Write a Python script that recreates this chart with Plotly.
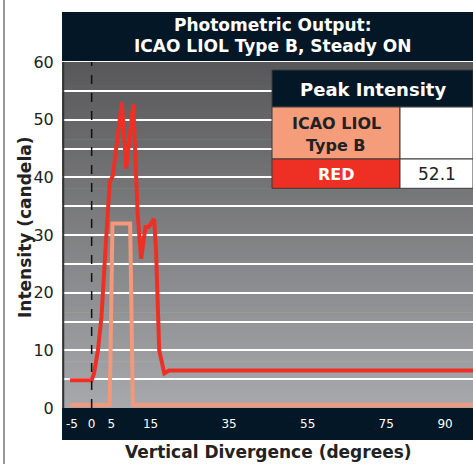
import plotly.graph_objects as go

# ---- data ----
red_x = [-5.5, 0, 0.6, 1.6, 2.5, 2.9, 3.5, 4.6, 5.4, 7.7, 8.8, 10.6, 11.7, 12.6, 13.7, 14.5, 15.9, 16.4, 17.2, 18.5, 19.7, 98]
red_y = [4.8, 4.8, 6, 10, 15.8, 21.6, 27.3, 39.2, 40.3, 53, 41.5, 52.7, 33.7, 25.9, 31.4, 31.4, 32.8, 27.3, 10, 6, 6.5, 6.5]
orange_x = [-5.5, 4.6, 5.3, 9.8, 10.5, 98]
orange_y = [0.5, 0.5, 32, 32, 0.5, 0.5]
x_ticks = [-5, 0, 5, 15, 35, 55, 75, 90]
x_tick_labels = ["-5", "0", "5", "15", "35", "55", "75", "90"]
y_ticks = [0, 10, 20, 30, 40, 50, 60]
peak_red = "52.1"

W, H = 473, 464
L, R, T, B = 62, 0, 62, 56
PW, PH = W - L - R, H - T - B

def px(xp):
    return (xp - L) / PW

def py(yp):
    return (H - B - yp) / PH

NAVY = "#041726"
SALMON = "#f59c7b"
RED = "#ee3024"
FONT = "DejaVu Sans"

fig = go.Figure()
fig.add_trace(go.Scatter(x=orange_x, y=orange_y, mode="lines",
                         line=dict(color="#f4977a", width=4), hoverinfo="skip"))
fig.add_trace(go.Scatter(x=red_x, y=red_y, mode="lines",
                         line=dict(color=RED, width=4), hoverinfo="skip"))

shapes = []
# title band and x-axis band (below, so tick labels stay visible)
shapes.append(dict(type="rect", xref="paper", yref="paper", x0=0, x1=1, y0=py(61), y1=py(12),
                   fillcolor=NAVY, line=dict(width=0), layer="below"))
shapes.append(dict(type="rect", xref="paper", yref="paper", x0=0, x1=1, y0=py(440), y1=py(H - B),
                   fillcolor=NAVY, line=dict(width=0), layer="below"))
# gradient background
n = 120
top = (88, 88, 90)
bot = (168, 169, 172)
for i in range(n):
    f = (i + 0.5) / n
    c = tuple(int(round(bot[k] + (top[k] - bot[k]) * f)) for k in range(3))
    shapes.append(dict(type="rect", xref="paper", yref="paper", x0=0, x1=1,
                       y0=i / n, y1=min((i + 1) / n + 0.002, 1), fillcolor="rgb(%d,%d,%d)" % c,
                       line=dict(width=0), layer="below"))
# dashed zero line
shapes.append(dict(type="line", xref="x", yref="paper", x0=0, x1=0, y0=0, y1=1,
                   line=dict(color="#111111", width=1.5, dash="dash")))
# left plot edge
shapes.append(dict(type="line", xref="paper", yref="paper", x0=0.003, x1=0.003, y0=0, y1=1,
                   line=dict(color="#333333", width=2)))
# page border at left
shapes.append(dict(type="line", xref="paper", yref="paper", x0=px(4), x1=px(4), y0=py(H), y1=py(0),
                   line=dict(color="#999999", width=2)))
# table
tx0, tx1, tx2 = px(272), px(400), 1.0
ty0, ty1, ty2, ty3 = py(70), py(107), py(159), py(188.3)
border = dict(color="#3a3a3a", width=1)
shapes += [
    dict(type="rect", xref="paper", yref="paper", x0=tx0, x1=tx2, y0=ty1, y1=ty0, fillcolor=NAVY, line=border),
    dict(type="rect", xref="paper", yref="paper", x0=tx0, x1=tx1, y0=ty2, y1=ty1, fillcolor=SALMON, line=border),
    dict(type="rect", xref="paper", yref="paper", x0=tx1, x1=tx2, y0=ty2, y1=ty1, fillcolor="white", line=border),
    dict(type="rect", xref="paper", yref="paper", x0=tx0, x1=tx1, y0=ty3, y1=ty2, fillcolor=RED, line=border),
    dict(type="rect", xref="paper", yref="paper", x0=tx1, x1=tx2, y0=ty3, y1=ty2, fillcolor="white", line=border),
]

ann = [
    dict(text="<b>Photometric Output:</b>", x=px(273), y=py(25), xref="paper", yref="paper",
         showarrow=False, font=dict(family=FONT, size=17, color="white"), xanchor="center", yanchor="middle"),
    dict(text="<b>ICAO LIOL Type B, Steady ON</b>", x=px(273), y=py(46), xref="paper", yref="paper",
         showarrow=False, font=dict(family=FONT, size=17, color="white"), xanchor="center", yanchor="middle"),
    dict(text="<b>Peak Intensity</b>", x=(tx0 + tx2) / 2, y=py(89), xref="paper", yref="paper",
         showarrow=False, font=dict(family=FONT, size=18, color="white"), xanchor="center", yanchor="middle"),
    dict(text="<b>ICAO LIOL</b>", x=(tx0 + tx1) / 2, y=py(123), xref="paper", yref="paper",
         showarrow=False, font=dict(family=FONT, size=16, color="#222222"), xanchor="center", yanchor="middle"),
    dict(text="<b>Type B</b>", x=(tx0 + tx1) / 2, y=py(145), xref="paper", yref="paper",
         showarrow=False, font=dict(family=FONT, size=16, color="#222222"), xanchor="center", yanchor="middle"),
    dict(text="<b>RED</b>", x=(tx0 + tx1) / 2, y=py(174), xref="paper", yref="paper",
         showarrow=False, font=dict(family=FONT, size=16, color="white"), xanchor="center", yanchor="middle"),
    dict(text=peak_red, x=(tx1 + tx2) / 2, y=py(174), xref="paper", yref="paper",
         showarrow=False, font=dict(family=FONT, size=17, color="#222222"), xanchor="center", yanchor="middle"),
    dict(text="<b>Vertical Divergence (degrees)</b>", x=px(268), y=py(452), xref="paper", yref="paper",
         showarrow=False, font=dict(family=FONT, size=17, color="#222222"), xanchor="center", yanchor="middle"),
    dict(text="<b>Intensity (candela)</b>", x=px(25), y=py(228), xref="paper", yref="paper", textangle=-90,
         showarrow=False, font=dict(family=FONT, size=17, color="#222222"), xanchor="center", yanchor="middle"),
]

fig.update_layout(
    width=W, height=H,
    margin=dict(l=L, r=R, t=T, b=B, pad=0),
    paper_bgcolor="white", plot_bgcolor="rgba(0,0,0,0)",
    showlegend=False,
    shapes=shapes, annotations=ann,
    xaxis=dict(range=[-7.55, 97.1], tickvals=x_ticks, ticktext=x_tick_labels, showgrid=False, zeroline=False,
               ticks="outside", ticklen=5, tickcolor="rgba(0,0,0,0)",
               tickfont=dict(family=FONT, size=12, color="white"), showline=False, fixedrange=True),
    yaxis=dict(range=[0, 60], tickvals=y_ticks, showgrid=True, gridcolor="white", gridwidth=1.5,
               minor=dict(dtick=5, showgrid=True, gridcolor="white", gridwidth=1.5),
               zeroline=False, ticks="outside", ticklen=4, tickcolor="rgba(0,0,0,0)",
               tickfont=dict(family=FONT, size=16, color="#222222"), showline=False, fixedrange=True),
)

fig.write_html("out.html", config={"displayModeBar": False},
               post_script="document.body.style.margin='0';document.body.style.overflow='hidden';")
